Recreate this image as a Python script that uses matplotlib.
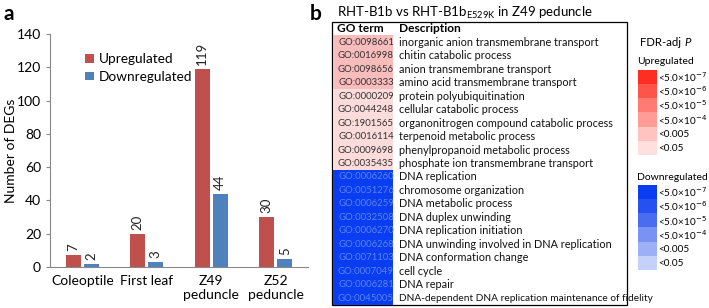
import numpy as np
import matplotlib.pyplot as plt
from matplotlib.patches import Rectangle

plt.rcParams['font.family'] = ['Lato', 'DejaVu Sans']

# panel a data
tissues = ["Coleoptile", "First leaf", "Z49\npeduncle", "Z52\npeduncle"]
upregulated = [7, 20, 119, 30]
downregulated = [2, 3, 44, 5]

# panel b data
go_terms = ["GO:0098661", "GO:0016998", "GO:0098656", "GO:0003333", "GO:0000209",
            "GO:0044248", "GO:1901565", "GO:0016114", "GO:0009698", "GO:0035435",
            "GO:0006260", "GO:0051276", "GO:0006259", "GO:0032508", "GO:0006270",
            "GO:0006268", "GO:0071103", "GO:0007049", "GO:0006281", "GO:0045005"]
descriptions = ["inorganic anion transmembrane transport", "chitin catabolic process",
                "anion transmembrane transport", "amino acid transmembrane transport",
                "protein polyubiquitination", "cellular catabolic process",
                "organonitrogen compound catabolic process", "terpenoid metabolic process",
                "phenylpropanoid metabolic process", "phosphate ion transmembrane transport",
                "DNA replication", "chromosome organization", "DNA metabolic process",
                "DNA duplex unwinding", "DNA replication initiation",
                "DNA unwinding involved in DNA replication", "DNA conformation change",
                "cell cycle", "DNA repair",
                "DNA-dependent DNA replication maintenance of fidelity"]
# direction and FDR level (0 = <5e-7 ... 5 = <0.05)
direction = ["up"] * 10 + ["down"] * 10
level = [4, 4, 4, 4, 5, 5, 5, 5, 5, 5] + [0] * 10

fdr_labels = [r"<5.0×10$^{-7}$", r"<5.0×10$^{-6}$", r"<5.0×10$^{-5}$",
              r"<5.0×10$^{-4}$", "<0.005", "<0.05"]
up_colors = ["#ff2e22", "#ff5449", "#ff7b73", "#ff9c96", "#ffc3c0", "#ffe0de"]
down_colors = ["#0a3cf2", "#2650f0", "#4a6cf0", "#7a92f4", "#9db0f6", "#c6d1fa"]
up_cell = "#f7bcbb"
up_cell_light = "#fbdcdb"

fig = plt.figure(figsize=(7.09, 3.08), dpi=100)
W, H = 709, 308

# ---- panel a ----
ax = fig.add_axes([50 / W, (H - 267) / H, (308 - 50) / W, (267 - 34) / H])
x = np.arange(len(tissues))
bw = 0.23
b1 = ax.bar(x - 0.14, upregulated, bw, color="#c0504d", label="Upregulated")
b2 = ax.bar(x + 0.14, downregulated, bw, color="#4f81bd", label="Downregulated")
for bars, vals in [(b1, upregulated), (b2, downregulated)]:
    for r, v in zip(bars, vals):
        ax.text(r.get_x() + r.get_width() / 2, v + 2.5, str(v), rotation=90,
                ha="center", va="bottom", fontsize=9.5, color="#222222")
ax.set_xlim(-0.5, 3.5)
ax.set_ylim(0, 140)
ax.set_yticks(range(0, 141, 20))
ax.set_xticks(x)
ax.set_xticklabels(tissues, fontsize=10, linespacing=1.15)
ax.tick_params(axis="y", labelsize=10, length=3, color="#888888")
ax.tick_params(axis="x", length=0, pad=6)
ax.spines["top"].set_visible(False)
ax.spines["right"].set_visible(False)
ax.spines["left"].set_color("#888888")
ax.spines["bottom"].set_color("#888888")
ax.set_ylabel("Number of DEGs", fontsize=10)
ax.yaxis.set_label_coords(-0.128, 0.5)
ax.legend(loc="upper left", bbox_to_anchor=(0.09, 0.97), frameon=False, fontsize=9.8,
          handlelength=0.6, handleheight=0.6, handletextpad=0.4, labelspacing=0.4)
fig.text(3 / W, 1 - 14 / H, "a", fontsize=15, fontweight="bold", va="center")

# ---- panel b (pixel coordinates) ----
bx = fig.add_axes([0, 0, 1, 1])
bx.set_xlim(0, W)
bx.set_ylim(H, 0)
bx.axis("off")

bx.text(310, 14, "b", fontsize=15, fontweight="bold", va="center")
bx.text(337, 13, r"RHT-B1b vs RHT-B1b$_{\mathregular{E529K}}$ in Z49 peduncle",
        fontsize=9.5, va="center")

left, right, top, bottom = 332, 627, 22, 305
col2 = 393
row_h = (bottom - top) / (len(go_terms) + 1)
bx.add_patch(Rectangle((left, top), right - left, bottom - top, fill=False,
                       edgecolor="black", lw=0.9))
bx.text(left + 5, top + row_h / 2, "GO term", fontsize=8.6, fontweight="bold", va="center")
bx.text(col2 + 6, top + row_h / 2, "Description", fontsize=8.6, fontweight="bold", va="center")
for i, (go, desc, d, lv) in enumerate(zip(go_terms, descriptions, direction, level)):
    y0 = top + row_h * (i + 1)
    if d == "up":
        fc = up_cell if lv == 4 else up_cell_light
        tc = "#333333"
    else:
        fc = down_colors[lv]
        tc = "#5a86e8"
    bx.add_patch(Rectangle((left + 0.5, y0), col2 - left - 0.5, row_h, facecolor=fc,
                           edgecolor="none"))
    bx.text(366, y0 + row_h / 2, go, fontsize=6.9, color=tc,
            ha="center", va="center")
    fs = 7.8 if i < 19 else 7.3
    bx.text(col2 + 6, y0 + row_h / 2, desc, fontsize=fs, color="#111111", va="center")

# legend for FDR
bx.text(640, 43, "FDR-adj ", fontsize=8.2, va="center")
bx.text(684, 43, "P", fontsize=8.2, va="center", style="italic")
for title, ty, colors in [("Upregulated", 62, up_colors), ("Downregulated", 177, down_colors)]:
    bx.text(637, ty, title, fontsize=7.5, va="center")
    sy = ty + 7.5
    for j, (c, lab) in enumerate(zip(colors, fdr_labels)):
        bx.add_patch(Rectangle((638, sy + j * 14.3), 19, 14.3, facecolor=c, edgecolor="none"))
        bx.text(658, sy + j * 14.3 + 7.5, lab, fontsize=7.2, va="center")

fig.savefig("out.png", dpi=100)
